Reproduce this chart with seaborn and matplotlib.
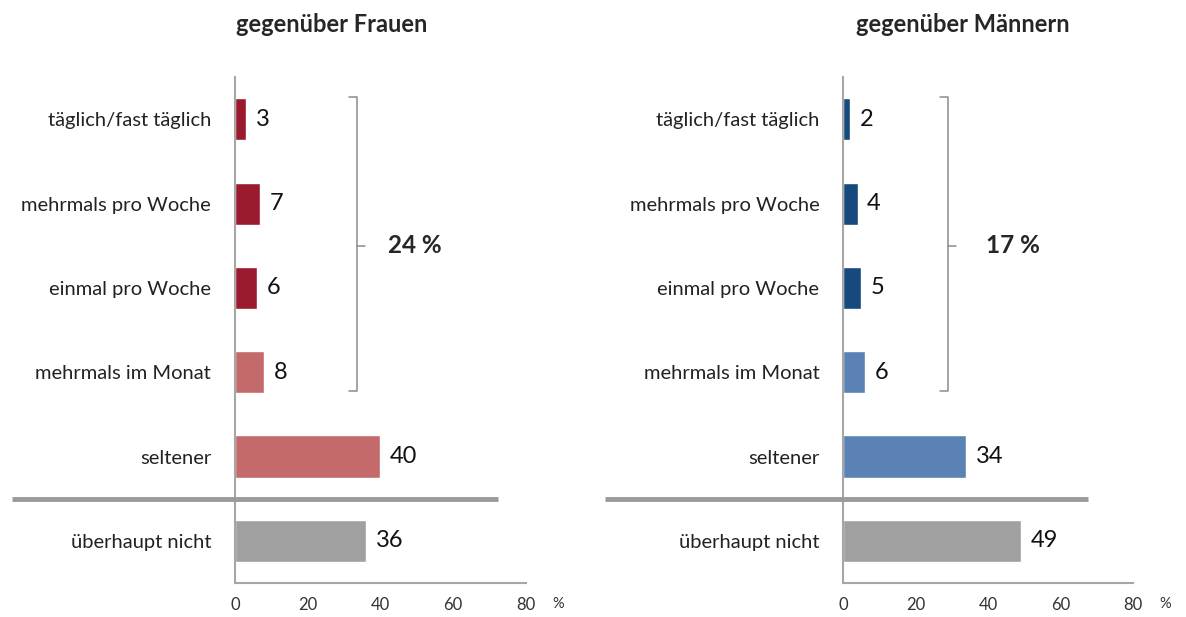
import matplotlib
matplotlib.use("Agg")
import matplotlib.pyplot as plt
import seaborn as sns

sns.set_style("white")
plt.rcParams['font.family'] = ['Lato', 'DejaVu Sans']

categories = ["täglich/fast täglich", "mehrmals pro Woche", "einmal pro Woche",
              "mehrmals im Monat", "seltener", "überhaupt nicht"]
frauen = [3, 7, 6, 8, 40, 36]
maenner = [2, 4, 5, 6, 34, 49]
frauen_colors = ["#9b1b2e", "#9b1b2e", "#9b1b2e", "#c46a6a", "#c46a6a", "#a0a0a0"]
maenner_colors = ["#174a7c", "#174a7c", "#174a7c", "#5b82b4", "#5b82b4", "#a0a0a0"]
titles = ["gegenüber Frauen", "gegenüber Männern"]
sums = ["24 %", "17 %"]
xticks = [0, 20, 40, 60, 80]

fig = plt.figure(figsize=(11.86, 6.17), dpi=100)
ax1 = fig.add_axes([0.198, 0.055, 0.2454, 0.820])
ax2 = fig.add_axes([0.7108, 0.055, 0.2445, 0.820])

setup = [
    (ax1, frauen, frauen_colors, titles[0], sums[0], (31.5, 33.5), 42, (-61.3, 72.3), 332),
    (ax2, maenner, maenner_colors, titles[1], sums[1], (26.8, 29.0), 39.5, (-65.7, 67.6), 963),
]

grey = "#a6a6a6"
for ax, vals, cols, title, s, (bx0, bx1), tx, (lx0, lx1), title_x in setup:
    sns.barplot(x=vals, y=categories, hue=categories, palette=cols, legend=False,
                width=0.5, ax=ax, saturation=1)
    ax.set_xlim(0, 80)
    ax.set_ylim(5.5, -0.5)
    ax.set_xticks(xticks)
    ax.set_xticklabels([str(t) for t in xticks], fontsize=12, color="#333333")
    ax.set_yticks(range(6))
    ax.set_yticklabels(categories, fontsize=14.5, color="#222222")
    ax.set_yticks([i - 0.5 for i in range(7)], minor=True)
    ax.tick_params(axis="y", which="major", length=0, pad=17)
    ax.tick_params(axis="y", which="minor", length=5, color=grey, width=1.2)
    ax.tick_params(axis="x", which="major", length=5, color=grey, width=1.2, pad=5)
    for side in ["top", "right"]:
        ax.spines[side].set_visible(False)
    for side in ["left", "bottom"]:
        ax.spines[side].set_color(grey)
        ax.spines[side].set_linewidth(1.5)
    ax.set_xlabel("")
    ax.set_ylabel("")

    for i, v in enumerate(vals):
        ax.annotate(str(v), (v, i), xytext=(7, 0), textcoords="offset points",
                    va="center", ha="left", fontsize=17, color="#111111")

    # separator between "seltener" and "überhaupt nicht"
    ax.plot([lx0, lx1], [4.5, 4.5], color="#9a9a9a", lw=3.5, clip_on=False,
            solid_capstyle="butt", zorder=5)

    # bracket around the first four categories
    ax.plot([bx0, bx1, bx1, bx0], [-0.26, -0.26, 3.22, 3.22], color="#8c8c8c",
            lw=1.1, clip_on=False)
    ax.plot([bx1, bx1 + 2.2], [1.5, 1.5], color="#8c8c8c", lw=1.1, clip_on=False)
    ax.text(tx, 1.5, s, fontsize=17.5, fontweight="bold", va="center", ha="left")

    fig.text(title_x / 1186, 1 - 25 / 617, title, fontsize=17, fontweight="bold",
             ha="center", va="center")
    ax.text(1.11, -0.028, "%", transform=ax.transAxes, fontsize=10.5,
            ha="center", va="top", color="#333333")

fig.savefig("out.png", dpi=100)
